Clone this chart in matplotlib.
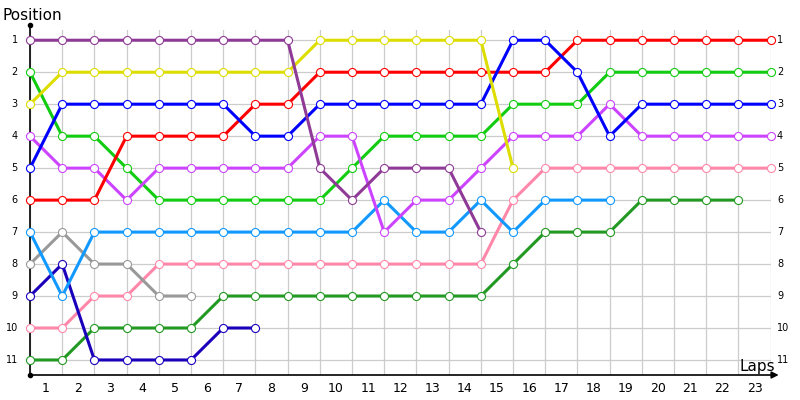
import matplotlib
matplotlib.use("Agg")
import matplotlib.pyplot as plt

laps = list(range(0, 24))
lap_labels = [str(i) for i in range(1, 24)]
positions = list(range(1, 12))

series = {
    "pink":       [10, 10, 9, 9, 8, 8, 8, 8, 8, 8, 8, 8, 8, 8, 8, 6, 5, 5, 5, 5, 5, 5, 5, 5],
    "darkgreen":  [11, 11, 10, 10, 10, 10, 9, 9, 9, 9, 9, 9, 9, 9, 9, 8, 7, 7, 7, 6, 6, 6, 6],
    "gray":       [8, 7, 8, 8, 9, 9],
    "darkblue":   [9, 8, 11, 11, 11, 11, 10, 10],
    "lightblue":  [7, 9, 7, 7, 7, 7, 7, 7, 7, 7, 7, 6, 7, 7, 6, 7, 6, 6, 6],
    "green":      [2, 4, 4, 5, 6, 6, 6, 6, 6, 6, 5, 4, 4, 4, 4, 3, 3, 3, 2, 2, 2, 2, 2, 2],
    "violet":     [4, 5, 5, 6, 5, 5, 5, 5, 5, 4, 4, 7, 6, 6, 5, 4, 4, 4, 3, 4, 4, 4, 4, 4],
    "red":        [6, 6, 6, 4, 4, 4, 4, 3, 3, 2, 2, 2, 2, 2, 2, 2, 2, 1, 1, 1, 1, 1, 1, 1],
    "blue":       [5, 3, 3, 3, 3, 3, 3, 4, 4, 3, 3, 3, 3, 3, 3, 1, 1, 2, 4, 3, 3, 3, 3, 3],
    "yellow":     [3, 2, 2, 2, 2, 2, 2, 2, 2, 1, 1, 1, 1, 1, 1, 5],
    "purple":     [1, 1, 1, 1, 1, 1, 1, 1, 1, 5, 6, 5, 5, 5, 7],
}

colors = {
    "pink": "#ff88aa",
    "darkgreen": "#229922",
    "gray": "#999999",
    "darkblue": "#1a00bb",
    "lightblue": "#1199ff",
    "green": "#11cc11",
    "violet": "#cc44ff",
    "red": "#ff0000",
    "blue": "#0000ff",
    "yellow": "#dddd00",
    "purple": "#8e3a96",
}

fig = plt.figure(figsize=(8, 4), dpi=100)
ax = fig.add_axes([30 / 800, 1 - 375 / 400, 740.6 / 800, 345 / 400])
ax.set_xlim(0, 23)
ax.set_ylim(11.47, 0.68)

for name, vals in series.items():
    xs = laps[:len(vals)]
    ax.plot(xs, vals, color=colors[name], lw=2.2, marker="o", ms=5.8,
            mfc="white", mec=colors[name], mew=0.8, zorder=3, clip_on=False)

# grid
for x in laps:
    ax.axvline(x, color="#cccccc", lw=0.9, zorder=1)
for y in positions:
    ax.axhline(y, color="#cccccc", lw=0.9, zorder=1)

for s in ax.spines.values():
    s.set_visible(False)
ax.set_xticks([])
ax.set_yticks([])

# axes lines
ax.plot([0, 0], [11.47, 0.53], color="black", lw=1.2, clip_on=False, zorder=2)
ax.plot([0], [0.53], marker="o", ms=3, color="black", clip_on=False, zorder=2)
ax.plot([0], [11.47], marker="o", ms=3, color="black", clip_on=False, zorder=2)
ax.annotate("", xy=(23.25, 11.47), xytext=(0, 11.47),
            arrowprops=dict(arrowstyle="-|>", color="black", lw=1.2,
                            mutation_scale=10, shrinkA=0, shrinkB=0),
            annotation_clip=False)

# tick labels
for i, lab in enumerate(lap_labels):
    ax.text(i + 0.5, 11.9, lab, ha="center", va="center", fontsize=9,
            color="black", clip_on=False)
for p in positions:
    ax.text(-0.38, p, str(p), ha="right", va="center", fontsize=7,
            color="black", clip_on=False)
    ax.text(23.2, p, str(p), ha="left", va="center", fontsize=7,
            color="black", clip_on=False)

fig.text(3 / 800, 1 - 15 / 400, "Position", ha="left", va="center", fontsize=11)
fig.text(757 / 800, 1 - 366 / 400, "Laps", ha="center", va="center", fontsize=11)

fig.savefig("out.png", dpi=100)
